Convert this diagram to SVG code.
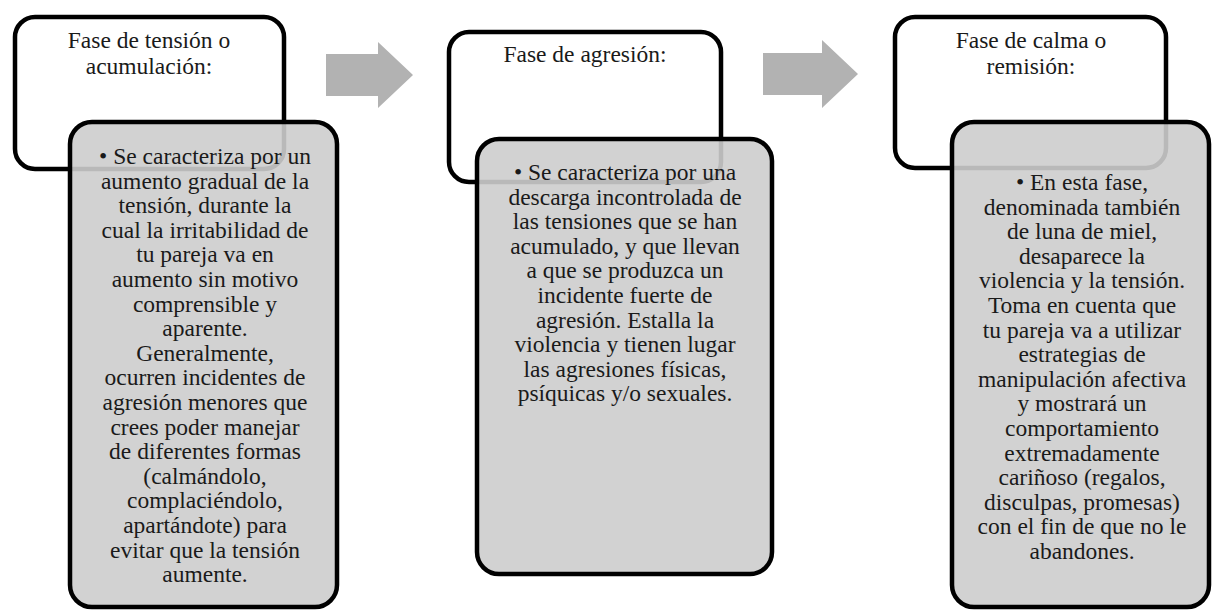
<svg xmlns="http://www.w3.org/2000/svg" width="1212" height="613" viewBox="0 0 1212 613">
<style>
.hdr{fill:#ffffff;stroke:#000000;stroke-width:4.5}
.body{fill:#cdcdcd;fill-opacity:0.9;stroke:#000000;stroke-width:4.5}
.arrow{fill:#b2b2b2;stroke:none}
.t{font-size:23.5px;fill:#1a1a1a;text-anchor:middle}
</style>
<rect width="1212" height="613" fill="#ffffff"/>
<g id="connectors">
<polygon class="arrow" points="326,54 378,54 378,42 413,75 378,108 378,96 326,96"/>
<polygon class="arrow" points="763,53 822,53 822,40 858,74 822,108 822,95 763,95"/>
</g>
<g id="phase1" class="t" font-family="'Liberation Serif', 'DejaVu Serif', serif">
<rect class="hdr" x="15" y="17" width="269" height="152" rx="20"/>
<text x="149" y="48">Fase de tensión o</text>
<text x="149" y="74">acumulación:</text>
<rect class="body" x="70" y="122" width="267" height="485" rx="22"/>
<text x="205" y="164">• Se caracteriza por un</text>
<text x="205" y="188.6">aumento gradual de la</text>
<text x="205" y="213.2">tensión, durante la</text>
<text x="205" y="237.8">cual la irritabilidad de</text>
<text x="205" y="262.4">tu pareja va en</text>
<text x="205" y="287">aumento sin motivo</text>
<text x="205" y="311.6">comprensible y</text>
<text x="205" y="336.2">aparente.</text>
<text x="205" y="360.8">Generalmente,</text>
<text x="205" y="385.4">ocurren incidentes de</text>
<text x="205" y="410">agresión menores que</text>
<text x="205" y="434.6">crees poder manejar</text>
<text x="205" y="459.2">de diferentes formas</text>
<text x="205" y="483.8">(calmándolo,</text>
<text x="205" y="508.4">complaciéndolo,</text>
<text x="205" y="533">apartándote) para</text>
<text x="205" y="557.6">evitar que la tensión</text>
<text x="205" y="582.2">aumente.</text>
</g>
<g id="phase2" class="t" font-family="'Liberation Serif', 'DejaVu Serif', serif">
<rect class="hdr" x="449" y="32" width="272" height="150" rx="20"/>
<text x="585" y="62">Fase de agresión:</text>
<rect class="body" x="477" y="139" width="295" height="435" rx="22"/>
<text x="625" y="180">• Se caracteriza por una</text>
<text x="625" y="204.6">descarga incontrolada de</text>
<text x="625" y="229.2">las tensiones que se han</text>
<text x="625" y="253.8">acumulado, y que llevan</text>
<text x="625" y="278.4">a que se produzca un</text>
<text x="625" y="303">incidente fuerte de</text>
<text x="625" y="327.6">agresión. Estalla la</text>
<text x="625" y="352.2">violencia y tienen lugar</text>
<text x="625" y="376.8">las agresiones físicas,</text>
<text x="625" y="401.4">psíquicas y/o sexuales.</text>
</g>
<g id="phase3" class="t" font-family="'Liberation Serif', 'DejaVu Serif', serif">
<rect class="hdr" x="895" y="17" width="271" height="151" rx="20"/>
<text x="1031" y="48">Fase de calma o</text>
<text x="1031" y="74">remisión:</text>
<rect class="body" x="952" y="122" width="257" height="485" rx="22"/>
<text x="1082" y="190">• En esta fase,</text>
<text x="1082" y="214.6">denominada también</text>
<text x="1082" y="239.2">de luna  de miel,</text>
<text x="1082" y="263.8">desaparece la</text>
<text x="1082" y="288.4">violencia y la tensión.</text>
<text x="1082" y="313">Toma en cuenta que</text>
<text x="1082" y="337.6">tu pareja va a utilizar</text>
<text x="1082" y="362.2">estrategias de</text>
<text x="1082" y="386.8">manipulación afectiva</text>
<text x="1082" y="411.4">y mostrará un</text>
<text x="1082" y="436">comportamiento</text>
<text x="1082" y="460.6">extremadamente</text>
<text x="1082" y="485.2">cariñoso (regalos,</text>
<text x="1082" y="509.8">disculpas, promesas)</text>
<text x="1082" y="534.4">con el fin de que no le</text>
<text x="1082" y="559">abandones.</text>
</g>
</svg>
